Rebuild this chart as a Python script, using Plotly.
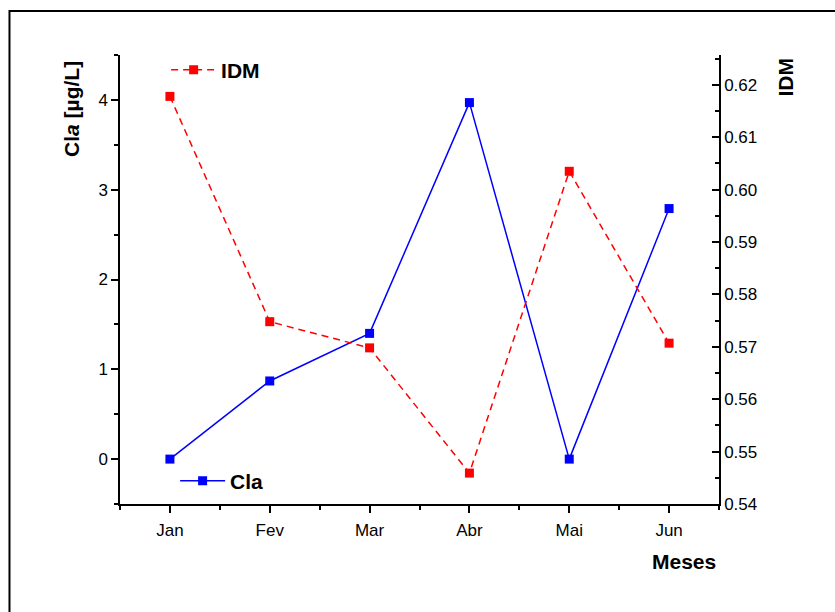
import plotly.graph_objects as go

months = ["Jan", "Fev", "Mar", "Abr", "Mai", "Jun"]
month_pos = [1, 2, 3, 4, 5, 6]
cla = [0.0, 0.87, 1.40, 3.97, 0.0, 2.79]
idm = [0.6178, 0.5748, 0.5698, 0.5459, 0.6035, 0.5707]

FONT = "Liberation Sans, Arial, sans-serif"
fig = go.Figure()

fig.add_trace(go.Scatter(
    x=month_pos, y=cla, name="<b>Cla</b>", mode="lines+markers",
    line=dict(color="#0000FF", width=1.5),
    marker=dict(symbol="square", size=9, color="#0000FF"),
    legend="legend2", yaxis="y"))
fig.add_trace(go.Scatter(
    x=month_pos, y=idm, name="<b>IDM</b>", mode="lines+markers",
    line=dict(color="#FF0000", width=1.5, dash="7px,5px"),
    marker=dict(symbol="square", size=9, color="#FF0000"),
    legend="legend", yaxis="y2"))

axis_common = dict(showline=True, linecolor="black", linewidth=1.5, showgrid=False,
                   zeroline=False, tickcolor="black", tickwidth=1.5,
                   tickfont=dict(family=FONT, size=17, color="black"))

fig.update_layout(
    width=835, height=612,
    margin=dict(l=120, r=116, t=55, b=108),
    paper_bgcolor="white", plot_bgcolor="white",
    xaxis=dict(range=[0.5, 6.5], tickvals=month_pos, ticktext=months,
               ticks="outside", ticklen=7, ticklabelstandoff=3,
               minor=dict(ticks="outside", ticklen=4, dtick=1, tick0=0.5,
                          tickcolor="black", tickwidth=1.5),
               mirror=False, **axis_common),
    yaxis=dict(range=[-0.5, 4.5], tickvals=[0, 1, 2, 3, 4], ticks="outside", ticklen=7,
               minor=dict(ticks="outside", ticklen=4, dtick=0.5, tick0=0,
                          tickcolor="black", tickwidth=1.5),
               **axis_common),
    yaxis2=dict(range=[0.54, 0.6257], overlaying="y", side="right",
                tickvals=[0.54, 0.55, 0.56, 0.57, 0.58, 0.59, 0.60, 0.61, 0.62],
                ticktext=["0.54", "0.55", "0.56", "0.57", "0.58", "0.59", "0.60", "0.61", "0.62"],
                ticks="inside", ticklen=7,
                minor=dict(ticks="inside", ticklen=4, dtick=0.005, tick0=0.54,
                           tickcolor="black", tickwidth=1.5),
                **axis_common),
    legend=dict(x=0.077, y=0.9666, xanchor="left", yanchor="middle", itemwidth=45,
                bgcolor="rgba(0,0,0,0)", font=dict(family=FONT, size=21, color="black")),
    legend2=dict(x=0.092, y=0.051, xanchor="left", yanchor="middle", itemwidth=45,
                 bgcolor="rgba(0,0,0,0)", font=dict(family=FONT, size=21, color="black")),
    showlegend=True,
    annotations=[
        dict(text="<b>Cl<i>a</i> [µg/L]</b>", xref="paper", yref="paper",
             x=-0.080, y=0.88, textangle=-90, showarrow=False,
             xanchor="center", yanchor="middle",
             font=dict(family=FONT, size=21, color="black")),
        dict(text="<b>IDM</b>", xref="paper", yref="paper",
             x=1.111, y=0.951, textangle=-90, showarrow=False,
             xanchor="center", yanchor="middle",
             font=dict(family=FONT, size=21, color="black")),
        dict(text="<b>Meses</b>", xref="paper", yref="paper",
             x=0.942, y=-0.127, showarrow=False,
             xanchor="center", yanchor="middle",
             font=dict(family=FONT, size=21, color="black")),
    ],
    shapes=[dict(type="rect", xref="paper", yref="paper",
                 x0=-0.1845, y0=-1.0, x1=2.0, y1=1.098,
                 line=dict(color="black", width=2), fillcolor="rgba(0,0,0,0)")],
)

fig.write_html("out.html")
